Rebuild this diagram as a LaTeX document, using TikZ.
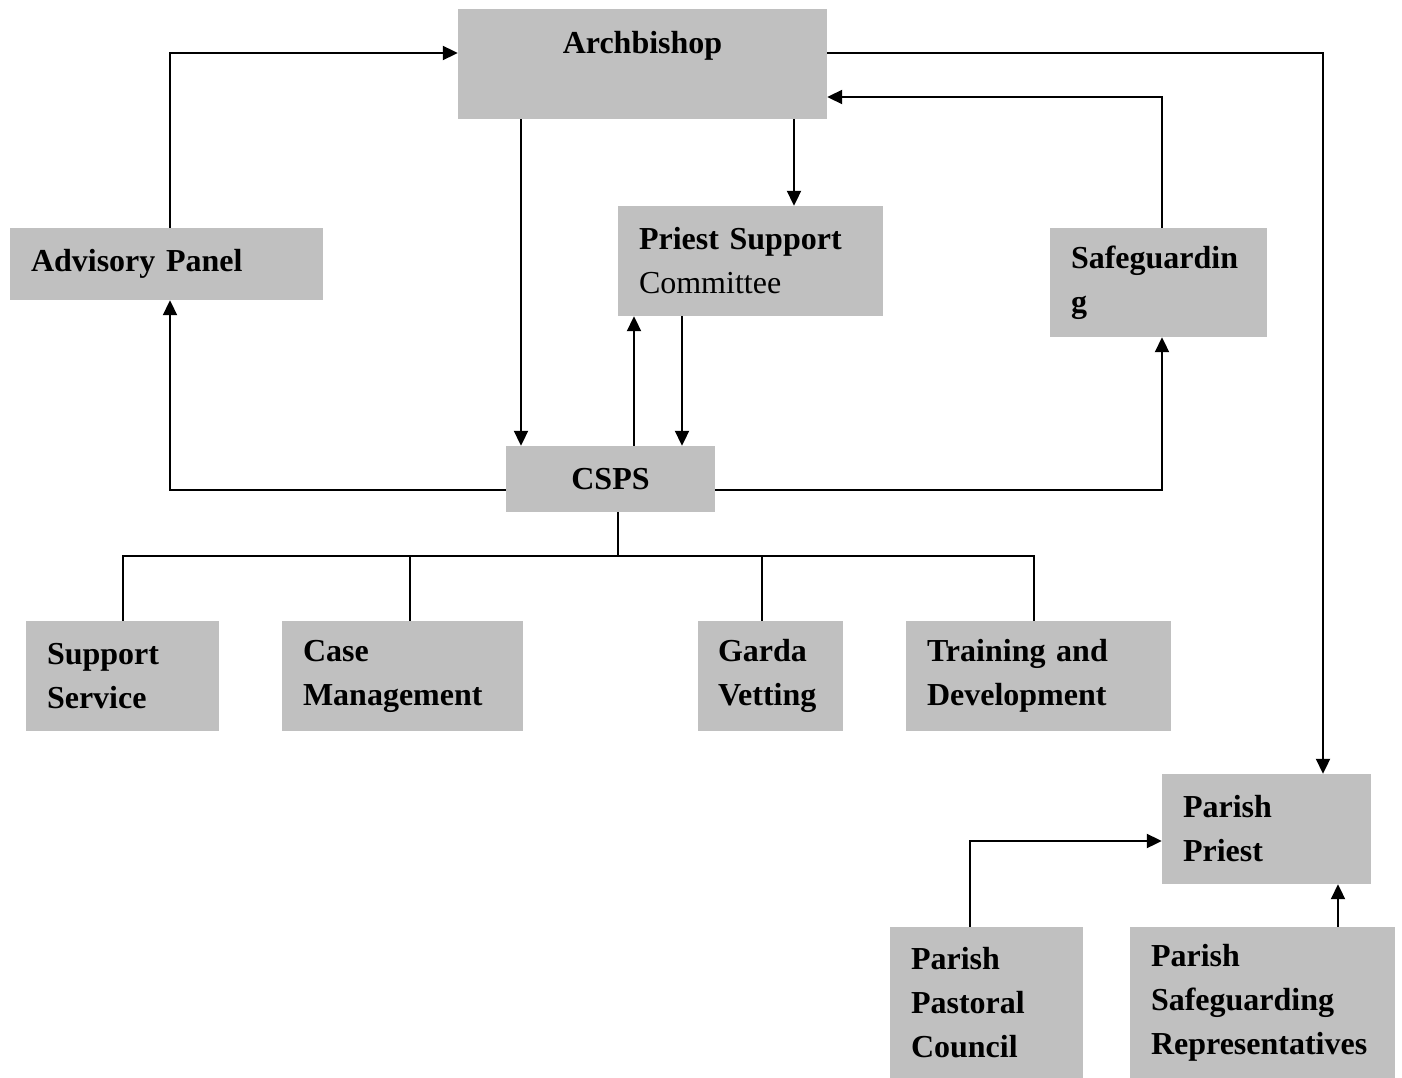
\documentclass[tikz,border=0pt]{standalone}
\usepackage{fontspec}
\setmainfont{Liberation Serif}
\usetikzlibrary{arrows.meta}
\definecolor{boxgrey}{HTML}{C0C0C0}

\begin{document}
\begin{tikzpicture}[x=1pt,y=-1pt,
    box/.style={fill=boxgrey,inner xsep=21pt,inner ysep=0pt,align=left,
      font=\fontsize{32}{44}\selectfont\bfseries},
    link/.style={line width=2pt},
    arr/.style={link,-{Triangle[length=15pt,width=14pt]}}]

      \useasboundingbox (0,0) rectangle (1402,1078);

      \begin{scope}[every node/.style={box}]
        \node[text width=327pt, minimum height=110pt, align=center] (archbishop) at (642.5,64) {Archbishop\\~};
        \node[text width=271pt, minimum height=72pt]  (advisory)     at (166.5,264)  {Advisory Panel};
        \node[text width=223pt, minimum height=110pt] (psc)          at (750.5,261)  {Priest Support\\\mdseries Committee};
        \node[text width=175pt, minimum height=109pt] (safeguarding) at (1158.5,282.5) {Safeguardin\\g};
        \node[text width=167pt, minimum height=66pt, align=center] (csps) at (610.5,479) {CSPS};
        \node[text width=151pt, minimum height=110pt] (support)      at (122.5,676)  {Support\\Service};
        \node[text width=199pt, minimum height=110pt] (case)         at (402.5,676)  {Case\\Management};
        \node[text width=105pt, minimum height=110pt, inner xsep=20pt] (garda) at (770.5,676) {Garda\\Vetting};
        \node[text width=223pt, minimum height=110pt] (training)     at (1038.5,676) {Training and\\Development};
        \node[text width=167pt, minimum height=110pt] (parishpriest) at (1266.5,829) {Parish\\Priest};
        \node[text width=151pt, minimum height=151pt] (pastoral)     at (986.5,1002.5) {Parish\\Pastoral\\Council};
        \node[text width=223pt, minimum height=151pt] (psr)          at (1262.5,1002.5) {Parish\\Safeguarding\\Representatives};
      \end{scope}

      \coordinate (bus) at (0,556);

      % reporting lines
      \draw[arr] ([xshift=3.5pt]advisory.north) |- ([yshift=11pt]archbishop.west);
      \draw[arr] ([yshift=11pt]archbishop.east) -| ([xshift=56.5pt]parishpriest.north);
      \draw[arr] ([xshift=3.5pt]safeguarding.north) |- ([yshift=-33pt]archbishop.east);
      \draw[arr] ([xshift=-121.5pt]archbishop.south) -- ([xshift=-121.5pt]archbishop.south |- csps.north);
      \draw[arr] ([xshift=151.5pt]archbishop.south) -- ([xshift=151.5pt]archbishop.south |- psc.north);
      \draw[arr] ([xshift=23.5pt]csps.north) -- ([xshift=23.5pt]csps.north |- psc.south);
      \draw[arr] ([xshift=-68.5pt]psc.south) -- ([xshift=-68.5pt]psc.south |- csps.north);
      \draw[arr] ([yshift=-11pt]csps.west) -| ([xshift=3.5pt]advisory.south);
      \draw[arr] ([yshift=-11pt]csps.east) -| ([xshift=3.5pt]safeguarding.south);

      % CSPS units
      \draw[link] ([xshift=7.5pt]csps.south) -- ([xshift=7.5pt]csps.south |- bus);
      \draw[link] (support.north) |- ([xshift=-4.5pt]training.north |- bus) -- ([xshift=-4.5pt]training.north);
      \draw[link] ([xshift=7.5pt]case.north) -- ([xshift=7.5pt]case.north |- bus);
      \draw[link] ([xshift=-8.5pt]garda.north) -- ([xshift=-8.5pt]garda.north |- bus);

      % parish level
      \draw[arr] ([xshift=-16.5pt]pastoral.north) |- ([yshift=-12pt]parishpriest.west);
      \draw[arr] ([xshift=75.5pt]psr.north) -- ([xshift=75.5pt]psr.north |- parishpriest.south);

    \end{tikzpicture}
\end{document}
